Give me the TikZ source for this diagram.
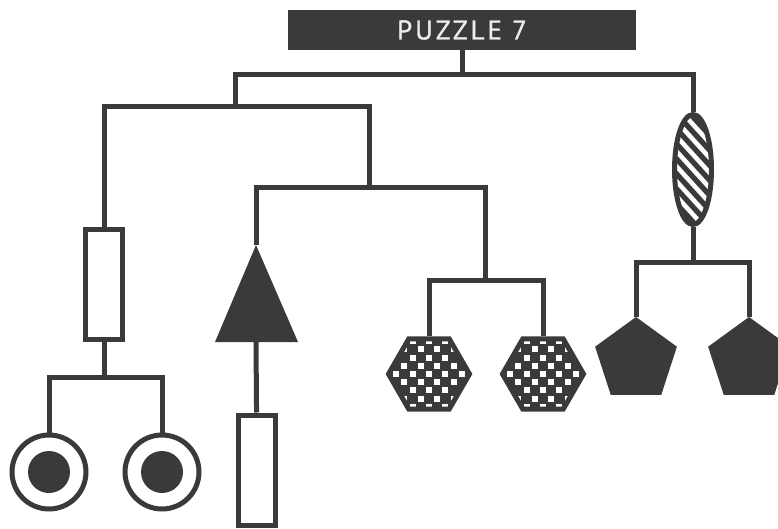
\documentclass[tikz,border=0pt]{standalone}
\usepackage{fontspec}
\newfontfamily\titlefont[LetterSpace=11, FakeBold=1.2]{PT Sans}
\usetikzlibrary{shapes.geometric}
\definecolor{ink}{HTML}{3A3A3A}
\definecolor{paper}{HTML}{EDEDED}

\begin{document}
\begin{tikzpicture}[x=1pt, y=-1pt,
    wire/.style={draw=ink, line width=5pt, line join=miter},
    slot/.style={rectangle, draw=ink, fill=white, line width=5pt, inner sep=0pt,
        minimum width=37pt, minimum height=110pt},
    ring/.style={circle, draw=ink, fill=white, line width=5pt, inner sep=0pt,
        minimum size=74pt,
        path picture={\fill[ink] (path picture bounding box.center) circle (21pt);}},
    chequer/.style={regular polygon, regular polygon sides=6, draw=ink, fill=ink,
        line width=5pt, inner sep=0pt, minimum size=81pt,
        path picture={
            \foreach \i in {-5,...,5}
                \foreach \j in {-5,...,5} {
                    \pgfmathtruncatemacro\k{mod(\i+\j+20,2)}
                    \ifnum\k=0
                        \fill[white, shift={(path picture bounding box.center)}]
                            (\i*8.2-3,\j*8.2-3) rectangle ++(6,6);
                    \fi}}},
    pent/.style={regular polygon, regular polygon sides=5, fill=ink,
        inner sep=0pt, minimum size=86pt}]
    % Frame
    \useasboundingbox (0,0) rectangle (778,529);
    \clip (0,0) rectangle (778,529);

    % Title
    \node[fill=ink, minimum width=348pt, minimum height=40pt, inner sep=0pt,
        text=paper, font=\titlefont\fontsize{27}{32}\selectfont] (puzzle) at (462,30) {PUZZLE 7};

    % Left shapes
    \node[slot] (box1) at (104,284.5) {};
    \node[ring] (ringA) at (49,472) {};
    \node[ring] (ringB) at (162,472) {};

    % Triangle and the box under it
    \fill[ink] (256,245) coordinate (apex) -- (298,342) -- (215,342) -- cycle;
    \coordinate (base) at (256,342);
    \node[slot] (box2) at (257,470) {};

    % Hexagons
    \node[chequer] (hexA) at (429,374) {};
    \node[chequer] (hexB) at (543,374) {};

    % Striped oval
    \node[ellipse, draw=ink, fill=ink, line width=5pt, inner sep=0pt,
        minimum width=37pt, minimum height=110pt,
        path picture={
            \foreach \k in {-6,...,6}
                \draw[white, line width=4.5pt, shift={(path picture bounding box.center)}]
                    (-30,-33+\k*15) -- ++(60,66);}] (oval) at (693,169.5) {};

    % Pentagons
    \node[pent] (pentA) at (636,360) {};
    \node[pent] (pentB) at (749,360) {};

    % Branch points
    \coordinate (b0) at (462,75);
    \coordinate (t1) at (235,107);
    \coordinate (t2) at (369,188);
    \coordinate (t3) at (485,280);
    \coordinate (t4) at (104,377);
    \coordinate (t5) at (693,262);

    % Connectors
    \draw[wire] (puzzle) -- (b0);
    \draw[wire] (t1) |- (b0) -| (oval);
    \draw[wire] (box1) |- (t1) -| (t2);
    \draw[wire] (apex) |- (t2) -| (t3);
    \draw[wire] (hexA) |- (t3) -| (hexB);
    \draw[wire] (box1) -- (t4);
    \draw[wire] (ringA) |- (t4) -| (ringB);
    \draw[wire] (base) -- (box2);
    \draw[wire] (oval) -- (t5);
    \draw[wire] (pentA) |- (t5) -| (pentB);
\end{tikzpicture}
\end{document}
